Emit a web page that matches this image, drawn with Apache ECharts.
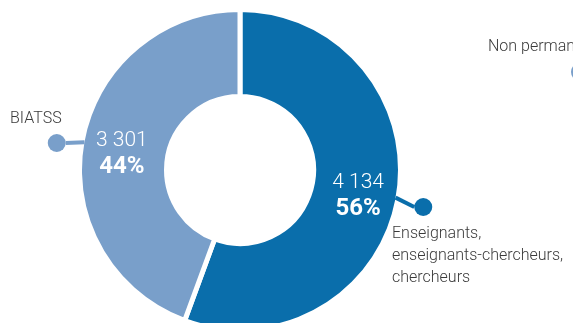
<!DOCTYPE html>
<html>
<head>
<meta charset="utf-8">
<script src="https://cdn.jsdelivr.net/npm/echarts@6/dist/echarts.min.js"></script>
<style>
html,body{margin:0;padding:0;background:#fff;}
#c{width:573px;height:323px;}
</style>
</head>
<body>
<div id="c"></div>
<script>
var categories = ['Enseignants,\nenseignants-chercheurs,\nchercheurs', 'BIATSS'];
var values = [4134, 3301];
var colors = ['#0a6eab', '#799fca'];
var offLabel = 'Non permanents';

function fmt(v){ return String(v).replace(/\B(?=(\d{3})+(?!\d))/g, ' '); }

var FONT = 'Roboto, "Noto Sans", sans-serif';
var center = [240, 170];
var radius = [73.5, 160.5];

var chart = echarts.init(document.getElementById('c'), null, {renderer:'canvas'});

var mainData = values.map(function(v, i){
  return { value: v, name: categories[i], itemStyle: { color: colors[i] } };
});
var dotData = values.map(function(v, i){
  return {
    value: v, name: categories[i],
    itemStyle: { color: 'rgba(0,0,0,0)' },
    label: { rich: { d: { width: 18, height: 18, borderRadius: 9, backgroundColor: colors[i] } } },
    labelLine: { lineStyle: { color: colors[i], width: 4 } }
  };
});
var nameData = values.map(function(v, i){
  return { value: v, name: categories[i], itemStyle: { color: 'rgba(0,0,0,0)' } };
});
var namePos = [
  { x: 392, y: 223, align: 'left', verticalAlign: 'top' },
  { x: 10, y: 119, align: 'left', verticalAlign: 'middle' }
];
var dotShift = [6, 4];

chart.setOption({
  animation: false,
  backgroundColor: '#fff',
  series: [
    {
      type: 'pie', center: center, radius: radius, startAngle: 90, clockwise: true,
      itemStyle: { borderColor: '#fff', borderWidth: 5 },
      label: {
        show: true, position: 'inside', offset: [0, 5],
        formatter: function(p){ return '{v|' + fmt(p.value) + '}\n{p|' + Math.round(p.percent) + '%}'; },
        rich: {
          v: { color: '#fff', fontFamily: FONT, fontWeight: 300, fontSize: 21, lineHeight: 26, align: 'center' },
          p: { color: '#fff', fontFamily: FONT, fontWeight: 'bold', fontSize: 24, lineHeight: 26, align: 'center' }
        }
      },
      labelLine: { show: false },
      data: mainData
    },
    {
      type: 'pie', center: center, radius: [76, 158], startAngle: 90, clockwise: true, silent: true, z: 3,
      label: { show: true, position: 'outside', formatter: '{d|}', distanceToLabelLine: 0, overflow: 'none', rich: { d: { width: 18, height: 18, borderRadius: 9 } } },
      labelLine: { show: true, length: 19, length2: 0, smooth: false },
      labelLayout: function(p){
        var s = dotShift[p.dataIndex];
        var pts = p.labelLinePoints;
        var out = { dy: s };
        if (pts && pts.length) {
          var np = pts.map(function(q){ return [q[0], q[1]]; });
          np[np.length - 1][1] += s;
          if (np.length > 2) np[1][1] += s;
          out.labelLinePoints = np;
        }
        return out;
      },
      data: dotData
    },
    {
      type: 'pie', center: center, radius: [76, 158], startAngle: 90, clockwise: true, silent: true, z: 4,
      label: { show: true, position: 'outside', color: '#3a3a3a', fontFamily: FONT, fontWeight: 300, fontSize: 16, lineHeight: 22,
        overflow: 'none', width: 300, formatter: '{b}' },
      labelLine: { show: false },
      labelLayout: function(p){ return namePos[p.dataIndex]; },
      data: nameData
    }
  ],
  graphic: [
    { type: 'text', left: 488, top: 39, style: { text: offLabel, fill: '#3a3a3a', font: '300 16px ' + FONT } },
    { type: 'circle', shape: { cx: 580, cy: 72, r: 9 }, style: { fill: colors[1] } }
  ]
});
</script>
</body>
</html>
